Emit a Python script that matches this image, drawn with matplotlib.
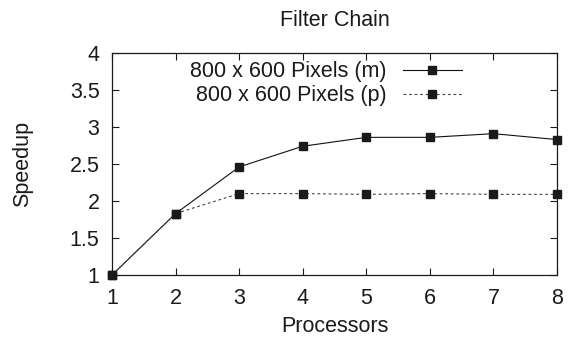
import matplotlib
matplotlib.use("Agg")
import matplotlib.pyplot as plt

plt.rcParams['font.family'] = ['Liberation Sans', 'DejaVu Sans']

processors = [1, 2, 3, 4, 5, 6, 7, 8]
speedup_m = [1.0, 1.83, 2.46, 2.74, 2.86, 2.86, 2.91, 2.83]
speedup_p = [1.0, 1.83, 2.10, 2.10, 2.09, 2.10, 2.09, 2.09]
label_m = "800 x 600 Pixels (m)"
label_p = "800 x 600 Pixels (p)"
yticks = [1, 1.5, 2, 2.5, 3, 3.5, 4]
ytick_labels = ["1", "1.5", "2", "2.5", "3", "3.5", "4"]
xticks = [1, 2, 3, 4, 5, 6, 7, 8]

W, H = 574, 342
fs = 15.5
txt = '#1a1a1a'
fig = plt.figure(figsize=(W / 100, H / 100), dpi=100)
ax = fig.add_axes([112 / W, 1 - 275 / H, (557 - 112) / W, (275 - 53) / H])

ax.plot(processors, speedup_m, color='#111111', lw=0.8, marker='s', ms=5.2,
        mfc='#1a1a1a', mec='#1a1a1a', label=label_m, clip_on=False, zorder=3)
ax.plot(processors, speedup_p, color='#444444', lw=0.8, ls=(0, (2.5, 2.5)), marker='s', ms=5.2,
        mfc='#1a1a1a', mec='#1a1a1a', label=label_p, clip_on=False, zorder=3)

ax.set_xlim(1, 8)
ax.set_ylim(1, 4)
ax.set_xticks(xticks)
ax.set_xticklabels([str(x) for x in xticks])
ax.set_yticks(yticks)
ax.set_yticklabels(ytick_labels)
ax.tick_params(direction='in', length=5, width=0.8, top=True, right=True,
               labelsize=fs, colors='#1a1a1a', labelcolor=txt)
ax.tick_params(axis='y', pad=9)
ax.tick_params(axis='x', pad=9)
for s in ax.spines.values():
    s.set_linewidth(0.9)
    s.set_color('#1a1a1a')

leg = ax.legend(loc='upper right', bbox_to_anchor=(462 / W, 1 - 61.5 / H),
                bbox_transform=fig.transFigure, frameon=False, markerfirst=False,
                fontsize=fs, handlelength=2.76, handletextpad=0.75, labelspacing=0.12,
                borderpad=0, borderaxespad=0)
for t in leg.get_texts():
    t.set_color(txt)

fig.text(334.5 / W, 1 - 21 / H, "Filter Chain", ha='center', va='center', fontsize=fs, color=txt)
fig.text(334.5 / W, 1 - 327 / H, "Processors", ha='center', va='center', fontsize=fs, color=txt)
fig.text(23 / W, 1 - 164 / H, "Speedup", ha='center', va='center', rotation=90, fontsize=fs, color=txt)

fig.savefig("out.png", dpi=100)
